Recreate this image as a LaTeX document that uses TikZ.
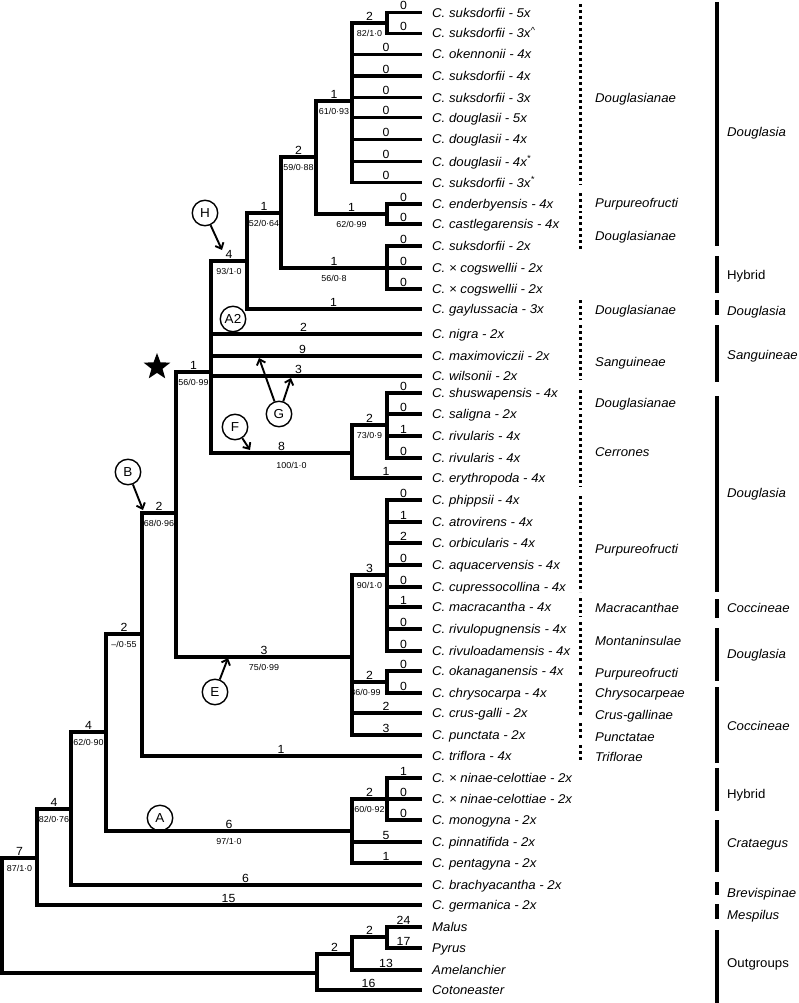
\documentclass[tikz,border=0pt]{standalone}
\usepackage{fontspec}
\setmainfont{Liberation Sans}[FakeStretch=1.04]
\usetikzlibrary{shapes.geometric,arrows.meta}
\tikzset{
 br/.style={line width=3.1pt, line cap=rect, line join=miter},
 num/.style={font=\fontsize{11.8}{12}\selectfont, inner sep=0pt, yshift=6.8pt},
 sv/.style={font=\fontsize{8.6}{9}\selectfont, inner sep=0pt, yshift=-10pt},
 leaf/.style={font=\fontsize{12.7}{14}\selectfont\itshape, anchor=base west, inner sep=0pt, yshift=-4.5pt, xshift=12pt},
 cat/.style={font=\fontsize{12.7}{14}\selectfont\itshape, anchor=base west, inner sep=0pt, yshift=-4.5pt},
 catup/.style={font=\fontsize{12.7}{14}\selectfont, anchor=base west, inner sep=0pt, yshift=-4.5pt},
 dotl/.style={line width=3pt, dash pattern=on 3pt off 3pt},
 bar/.style={line width=3.5pt},
 circ/.style={circle, draw, line width=1.4pt, minimum size=25.5pt, inner sep=0pt, font=\fontsize{13}{14}\selectfont},
 arr/.style={line width=1.9pt, -{Straight Barb[length=5pt,width=9pt]}},
}
\newcommand{\treeedge}[3]{\draw[br] (#1) |- node[num,pos=.75]{#3} (#2);}
\newcommand{\treeedgesv}[4]{\draw[br] (#1) |- node[num,pos=.75]{#3} node[sv,pos=.75]{#4} (#2);}
\begin{document}
\begin{tikzpicture}[x={(1pt,0)}, y={(0,-1pt)}]
\useasboundingbox (0,0) rectangle (798,1003);
% leaves
\coordinate (l1) at (420,12.7);
\coordinate (l2) at (420,33.3);
\coordinate (l3) at (420,54.3);
\coordinate (l4) at (420,76);
\coordinate (l5) at (420,97.7);
\coordinate (l6) at (420,117.7);
\coordinate (l7) at (420,139.3);
\coordinate (l8) at (420,161.7);
\coordinate (l9) at (420,182.7);
\coordinate (l10) at (420,204);
\coordinate (l11) at (420,224);
\coordinate (l12) at (420,246);
\coordinate (l13) at (420,268);
\coordinate (l14) at (420,289);
\coordinate (l15) at (420,309);
\coordinate (l16) at (420,334);
\coordinate (l17) at (420,356);
\coordinate (l18) at (420,376);
\coordinate (l19) at (420,393);
\coordinate (l20) at (420,414);
\coordinate (l21) at (420,436);
\coordinate (l22) at (420,458);
\coordinate (l23) at (420,478);
\coordinate (l24) at (420,500);
\coordinate (l25) at (420,522);
\coordinate (l26) at (420,543);
\coordinate (l27) at (420,565);
\coordinate (l28) at (420,587);
\coordinate (l29) at (420,607);
\coordinate (l30) at (420,629);
\coordinate (l31) at (420,651);
\coordinate (l32) at (420,671);
\coordinate (l33) at (420,693);
\coordinate (l34) at (420,713);
\coordinate (l35) at (420,735);
\coordinate (l36) at (420,756);
\coordinate (l37) at (420,778);
\coordinate (l38) at (420,799);
\coordinate (l39) at (420,820);
\coordinate (l40) at (420,842);
\coordinate (l41) at (420,863);
\coordinate (l42) at (420,885);
\coordinate (l43) at (420,905);
\coordinate (l44) at (420,927);
\coordinate (l45) at (420,948);
\coordinate (l46) at (420,970);
\coordinate (l47) at (420,990);
% internal nodes
\coordinate (n12) at (387,23);
\coordinate (npoly) at (352,101);
\coordinate (nec) at (387,214);
\coordinate (n59) at (316,157);
\coordinate (ncog) at (387,268);
\coordinate (n52) at (281,213);
\coordinate (n93) at (247,261);
\coordinate (nriv) at (387,425);
\coordinate (n73) at (352,453);
\coordinate (n56) at (211,372);
\coordinate (n90) at (387,575);
\coordinate (n86) at (387,682);
\coordinate (n75) at (352,657);
\coordinate (n68) at (176,513);
\coordinate (n55) at (142,634);
\coordinate (n60) at (387,799);
\coordinate (n97) at (352,831);
\coordinate (n62) at (106,732);
\coordinate (n82) at (71,809);
\coordinate (n87) at (37,858);
\coordinate (nmp) at (387,937);
\coordinate (no2) at (352,954);
\coordinate (no1) at (317,973);
\coordinate (root) at (2,915);
% branches
\treeedge{n12}{l1}{0}
\treeedge{n12}{l2}{0}
\treeedgesv{npoly}{n12}{2}{82/1·0}
\treeedge{npoly}{l3}{0}
\treeedge{npoly}{l4}{0}
\treeedge{npoly}{l5}{0}
\treeedge{npoly}{l6}{0}
\treeedge{npoly}{l7}{0}
\treeedge{npoly}{l8}{0}
\treeedge{npoly}{l9}{0}
\treeedgesv{n59}{npoly}{1}{61/0·93}
\treeedgesv{n59}{nec}{1}{62/0·99}
\treeedge{nec}{l10}{0}
\treeedge{nec}{l11}{0}
\treeedgesv{n52}{n59}{2}{59/0·88}
\treeedgesv{n52}{ncog}{1}{56/0·8}
\treeedge{ncog}{l12}{0}
\treeedge{ncog}{l13}{0}
\treeedge{ncog}{l14}{0}
\treeedgesv{n93}{n52}{1}{52/0·64}
\treeedge{n93}{l15}{1}
\treeedgesv{n56}{n93}{4}{93/1·0}
\draw[br] (n56) |- node[num,pos=.75,xshift=-12pt]{2} (l16);
\draw[br] (n56) |- node[num,pos=.75,xshift=-13pt]{9} (l17);
\draw[br] (n56) |- node[num,pos=.75,xshift=-17pt]{3} (l18);
\draw[br] (n56) |- node[num,pos=.75]{8} node[sv,pos=.75,xshift=10pt,yshift=-2pt]{100/1·0} (n73);
\treeedgesv{n73}{nriv}{2}{73/0·9}
\treeedge{n73}{l23}{1}
\treeedge{nriv}{l19}{0}
\treeedge{nriv}{l20}{0}
\treeedge{nriv}{l21}{1}
\treeedge{nriv}{l22}{0}
\treeedgesv{n68}{n56}{1}{56/0·99}
\treeedgesv{n68}{n75}{3}{75/0·99}
\treeedgesv{n75}{n90}{3}{90/1·0}
\draw[br] (n75) |- node[num,pos=.75]{2} node[sv,pos=.75,xshift=-4pt]{86/0·99} (n86);
\treeedge{n75}{l34}{2}
\treeedge{n75}{l35}{3}
\treeedge{n90}{l24}{0}
\treeedge{n90}{l25}{1}
\treeedge{n90}{l26}{2}
\treeedge{n90}{l27}{0}
\treeedge{n90}{l28}{0}
\treeedge{n90}{l29}{1}
\treeedge{n90}{l30}{0}
\treeedge{n90}{l31}{0}
\treeedge{n86}{l32}{0}
\treeedge{n86}{l33}{0}
\treeedgesv{n55}{n68}{2}{68/0·96}
\treeedge{n55}{l36}{1}
\treeedgesv{n62}{n55}{2}{\textendash/0·55}
\treeedgesv{n62}{n97}{6}{97/1·0}
\treeedgesv{n97}{n60}{2}{60/0·92}
\treeedge{n97}{l40}{5}
\treeedge{n97}{l41}{1}
\treeedge{n60}{l37}{1}
\treeedge{n60}{l38}{0}
\treeedge{n60}{l39}{0}
\treeedgesv{n82}{n62}{4}{62/0·90}
\treeedge{n82}{l42}{6}
\treeedgesv{n87}{n82}{4}{82/0·76}
\treeedge{n87}{l43}{15}
\treeedgesv{root}{n87}{7}{87/1·0}
\draw[br] (root) |- (no1);
\treeedge{no1}{no2}{2}
\treeedge{no1}{l47}{16}
\treeedge{no2}{nmp}{2}
\treeedge{no2}{l46}{13}
\treeedge{nmp}{l44}{24}
\treeedge{nmp}{l45}{17}
% leaf labels
\node[leaf] (t1) at (l1) {C. suksdorfii - 5x};
\node[leaf] (t2) at (l2) {C. suksdorfii - 3x\textsuperscript{\textasciicircum}};
\node[leaf] (t3) at (l3) {C. okennonii - 4x};
\node[leaf] (t4) at (l4) {C. suksdorfii - 4x};
\node[leaf] (t5) at (l5) {C. suksdorfii - 3x};
\node[leaf] (t6) at (l6) {C. douglasii - 5x};
\node[leaf] (t7) at (l7) {C. douglasii - 4x};
\node[leaf] (t8) at (l8) {C. douglasii - 4x\textsuperscript{*}};
\node[leaf] (t9) at (l9) {C. suksdorfii - 3x\textsuperscript{*}};
\node[leaf] (t10) at (l10) {C. enderbyensis - 4x};
\node[leaf] (t11) at (l11) {C. castlegarensis - 4x};
\node[leaf] (t12) at (l12) {C. suksdorfii - 2x};
\node[leaf] (t13) at (l13) {C. × cogswellii - 2x};
\node[leaf] (t14) at (l14) {C. × cogswellii - 2x};
\node[leaf] (t15) at (l15) {C. gaylussacia - 3x};
\node[leaf] (t16) at (l16) {C. nigra - 2x};
\node[leaf] (t17) at (l17) {C. maximoviczii - 2x};
\node[leaf] (t18) at (l18) {C. wilsonii - 2x};
\node[leaf] (t19) at (l19) {C. shuswapensis - 4x};
\node[leaf] (t20) at (l20) {C. saligna - 2x};
\node[leaf] (t21) at (l21) {C. rivularis - 4x};
\node[leaf] (t22) at (l22) {C. rivularis - 4x};
\node[leaf] (t23) at (l23) {C. erythropoda - 4x};
\node[leaf] (t24) at (l24) {C. phippsii - 4x};
\node[leaf] (t25) at (l25) {C. atrovirens - 4x};
\node[leaf] (t26) at (l26) {C. orbicularis - 4x};
\node[leaf] (t27) at (l27) {C. aquacervensis - 4x};
\node[leaf] (t28) at (l28) {C. cupressocollina - 4x};
\node[leaf] (t29) at (l29) {C. macracantha - 4x};
\node[leaf] (t30) at (l30) {C. rivulopugnensis - 4x};
\node[leaf] (t31) at (l31) {C. rivuloadamensis - 4x};
\node[leaf] (t32) at (l32) {C. okanaganensis - 4x};
\node[leaf] (t33) at (l33) {C. chrysocarpa - 4x};
\node[leaf] (t34) at (l34) {C. crus-galli - 2x};
\node[leaf] (t35) at (l35) {C. punctata - 2x};
\node[leaf] (t36) at (l36) {C. triflora - 4x};
\node[leaf] (t37) at (l37) {C. × ninae-celottiae - 2x};
\node[leaf] (t38) at (l38) {C. × ninae-celottiae - 2x};
\node[leaf] (t39) at (l39) {C. monogyna - 2x};
\node[leaf] (t40) at (l40) {C. pinnatifida - 2x};
\node[leaf] (t41) at (l41) {C. pentagyna - 2x};
\node[leaf] (t42) at (l42) {C. brachyacantha - 2x};
\node[leaf] (t43) at (l43) {C. germanica - 2x};
\node[leaf] (t44) at (l44) {Malus};
\node[leaf] (t45) at (l45) {Pyrus};
\node[leaf] (t46) at (l46) {Amelanchier};
\node[leaf] (t47) at (l47) {Cotoneaster};
% dotted subsection lines
\foreach \a/\b in {4/185, 193/213, 216/250, 300/320, 325/380, 390/410, 414/487, 496/592, 598/617, 622/663, 666/677, 683/697, 700/718, 723/740, 745/763}
  \draw[dotl] (580,\a) -- (580,\b);
\node[cat] (c1) at (595,97.7) {Douglasianae};
\node[cat] (c2) at (595,203) {Purpureofructi};
\node[cat] (c3) at (595,236) {Douglasianae};
\node[cat] (c4) at (595,310) {Douglasianae};
\node[cat] (c5) at (595,362) {Sanguineae};
\node[cat] (c6) at (595,403) {Douglasianae};
\node[cat] (c7) at (595,452) {Cerrones};
\node[cat] (c8) at (595,549) {Purpureofructi};
\node[cat] (c9) at (595,608) {Macracanthae};
\node[cat] (c10) at (595,641) {Montaninsulae};
\node[cat] (c11) at (595,673) {Purpureofructi};
\node[cat] (c12) at (595,693) {Chrysocarpeae};
\node[cat] (c13) at (595,715) {Crus-gallinae};
\node[cat] (c14) at (595,737) {Punctatae};
\node[cat] (c15) at (595,757) {Triflorae};
% solid section bars
\foreach \a/\b in {2/246, 256/293, 300/315, 325/382, 396/592, 599/618, 628/681, 687/763, 768/811, 820/872, 882/895, 904/919, 930/1003}
  \draw[bar] (717,\a) -- (717,\b);
\node[cat] (s1) at (727,132) {Douglasia};
\node[catup] (s2) at (727,275) {Hybrid};
\node[cat] (s3) at (727,311) {Douglasia};
\node[cat] (s4) at (727,355) {Sanguineae};
\node[cat] (s5) at (727,493) {Douglasia};
\node[cat] (s6) at (727,608) {Coccineae};
\node[cat] (s7) at (727,654) {Douglasia};
\node[cat] (s8) at (727,726) {Coccineae};
\node[catup] (s9) at (727,794) {Hybrid};
\node[cat] (s10) at (727,843) {Crataegus};
\node[cat] (s11) at (727,893) {Brevispinae};
\node[cat] (s12) at (727,915) {Mespilus};
\node[catup] (s13) at (727,963) {Outgroups};
% annotations
\node[circ] (cH) at (205,213) {H};
\node[circ] (cA2) at (233,319) {A2};
\node[circ] (cG) at (279,414) {G};
\node[circ] (cF) at (235,427) {F};
\node[circ] (cB) at (128,472) {B};
\node[circ] (cE) at (215,692) {E};
\node[circ] (cA) at (160,818) {A};
\coordinate (hH) at (222,250);
\coordinate (hG1) at (259,358);
\coordinate (hG2) at (291,378);
\coordinate (hF) at (250,450);
\coordinate (hB) at (143,510);
\coordinate (hE) at (228,658);
\draw[arr] (cH) -- (hH);
\draw[arr] (cG) -- (hG1);
\draw[arr] (cG) -- (hG2);
\draw[arr] (cF) -- (hF);
\draw[arr] (cB) -- (hB);
\draw[arr] (cE) -- (hE);
\node[star, star points=5, star point ratio=2.4, fill=black, minimum size=28pt, inner sep=0pt] (star) at (157,367) {};
\end{tikzpicture}
\end{document}
